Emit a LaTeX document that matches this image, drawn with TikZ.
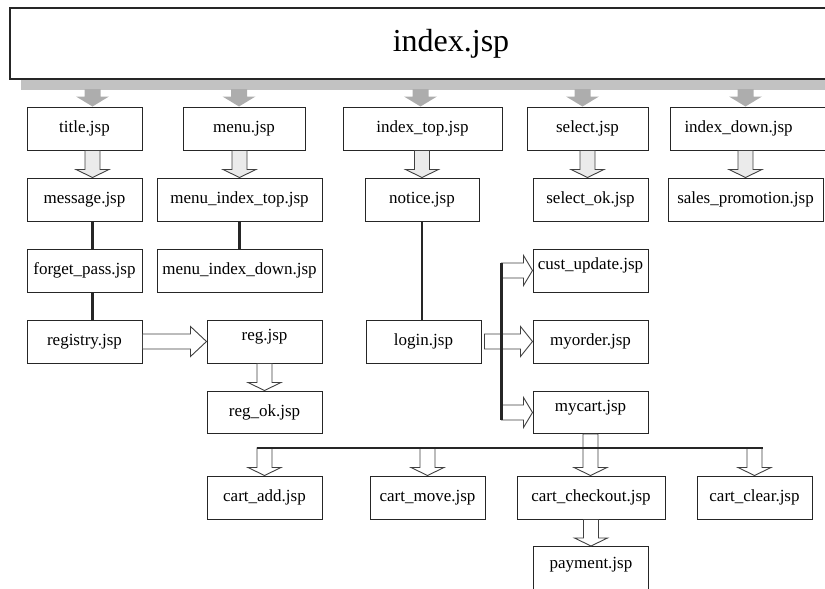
\documentclass[tikz,border=0pt]{standalone}
\usepackage{fontspec}
\setmainfont{Liberation Serif}
\usetikzlibrary{calc}

\tikzset{
  page/.style={draw=black!85, line width=1pt, fill=white, minimum width=115pt,
    minimum height=43pt, inner sep=0pt, font=\fontsize{17}{17}\selectfont},
  lifted/.style={text depth=13pt},
  link/.style={draw=black!85, line width=2.6pt},
  fat/.style={draw=black!75, line width=0.9pt, fill=white, line join=miter},
  fatgray/.style={fat, fill=black!8},
  feed/.style={fill=black!32},
}

% hollow arrow down: x and start from #2, tip at the y of #3
\newcommand{\fatdown}[3][fat]{%
  \draw[#1] let \p1=(#2), \p2=(#3) in
    (\x1-7.5pt,\y1) -- (\x1+7.5pt,\y1) -- (\x1+7.5pt,\y2+8pt) -- (\x1+16.5pt,\y2+8pt)
    -- (\x1,\y2) -- (\x1-16.5pt,\y2+8pt) -- (\x1-7.5pt,\y2+8pt) -- cycle;}
% hollow arrow right: y and start from #2, tip at the x of #3, head length #4
\newcommand{\fatright}[4][fat]{%
  \draw[#1] let \p1=(#2), \p2=(#3) in
    (\x1,\y1+7.5pt) -- (\x2-#4,\y1+7.5pt) -- (\x2-#4,\y1+15pt) -- (\x2,\y1)
    -- (\x2-#4,\y1-15pt) -- (\x2-#4,\y1-7.5pt) -- (\x1,\y1-7.5pt) -- cycle;}
% grey arrow from the bar under index.jsp
\newcommand{\grayarrow}[2]{%
  \fill[feed] let \p1=(#1), \p2=(#2) in
    (\x1-8pt,\y1+1pt) -- (\x1+8pt,\y1+1pt) -- (\x1+8pt,\y2+10pt) -- (\x1+16.5pt,\y2+10pt)
    -- (\x1,\y2) -- (\x1-16.5pt,\y2+10pt) -- (\x1-8pt,\y2+10pt) -- cycle;}

\begin{document}
\begin{tikzpicture}[x=1pt,y=-1pt]
\useasboundingbox (0,0) rectangle (825,589);

% top
\fill[feed, fill=black!24] (21,79) rectangle (900,90);
\node[page, minimum width=882pt, minimum height=71pt, line width=1.2pt,
  font=\fontsize{32}{32}\selectfont] (index) at (451,43.5) {index.jsp};
\coordinate (barbot) at (0,90);

% first row
\node[page] (title) at (84.5,128.5) {title.jsp};
\node[page, minimum width=122pt] (menu) at (244,128.5) {menu.jsp};
\node[page, minimum width=159pt] (idxtop) at (422.5,128.5) {index\_top.jsp};
\node[page, minimum width=121pt] (select) at (587.5,128.5) {select.jsp};
\node[page, anchor=west, text width=146pt, inner xsep=14pt, align=left] (idxdown) at (670,128.5) {index\_down.jsp};

% second row
\node[page] (message) at (84.5,199.5) {message.jsp};
\node[page, minimum width=165pt] (menuidxtop) at (239.5,199.5) {menu\_index\_top.jsp};
\node[page, minimum width=114pt] (notice) at (422,199.5) {notice.jsp};
\node[page] (selectok) at (590.5,199.5) {select\_ok.jsp};
\node[page, minimum width=155pt] (sales) at (745.5,199.5) {sales\_promotion.jsp};

\node[page] (forget) at (84.5,270.5) {forget\_pass.jsp};
\node[page, minimum width=165pt] (menuidxdown) at (239.5,270.5) {menu\_index\_down.jsp};
\node[page, lifted] (custupd) at (590.5,270.5) {cust\_update.jsp};

\node[page] (registry) at (84.5,341.5) {registry.jsp};
\node[page, lifted] (reg) at (264.5,341.5) {reg.jsp};
\node[page] (login) at (423.5,341.5) {login.jsp};
\node[page] (myorder) at (590.5,341.5) {myorder.jsp};

\node[page, minimum height=42pt] (regok) at (264.5,412) {reg\_ok.jsp};
\node[page, minimum height=42pt, lifted] (mycart) at (590.5,412.5) {mycart.jsp};

% cart
\node[page] (cartadd) at (264.5,497.5) {cart\_add.jsp};
\node[page] (cartmove) at (427.5,497.5) {cart\_move.jsp};
\node[page, minimum width=148pt] (checkout) at (591,497.5) {cart\_checkout.jsp};
\node[page] (clear) at (754.5,497.5) {cart\_clear.jsp};
\node[page, anchor=north, minimum height=52pt, text depth=20pt] (payment) at (591,546) {payment.jsp};

% grey arrows
\grayarrow{$(title.north |- barbot)+(8,0)$}{title.north}
\grayarrow{$(menu.north |- barbot)+(-5,0)$}{menu.north}
\grayarrow{$(idxtop.north |- barbot)+(-2,0)$}{idxtop.north}
\grayarrow{$(select.north |- barbot)+(-5,0)$}{select.north}
\grayarrow{sales.north |- barbot}{idxdown.north}

\fatdown[fatgray]{$(title.south)+(8,0)$}{message.north}
\fatdown[fatgray]{menu.south -| menuidxtop.north}{menuidxtop.north}
\fatdown[fatgray]{idxtop.south -| notice.north}{notice.north}
\fatdown[fatgray]{select.south}{selectok.north}
\fatdown[fatgray]{idxdown.south -| sales.north}{sales.north}

\draw[link] ($(message.south)+(8,0)$) -- ($(forget.north)+(8,0)$);
\draw[link] ($(forget.south)+(8,0)$) -- ($(registry.north)+(8,0)$);
\draw[link] (menuidxtop.south) -- (menuidxdown.north);
\draw[link] (notice.south) -- (notice.south |- login.north);

\fatright{registry.east}{reg.west}{16pt}
\fatdown{reg.south}{regok.north}

% login
\coordinate (trunk) at ($(login.east)+(20,0)$);
\fatright{trunk |- custupd.west}{custupd.west}{9pt}
\fatright{$(login.east)+(3,0)$}{myorder.west}{12pt}
\fatright{trunk |- mycart.west}{mycart.west}{9pt}
\draw[link] ($(trunk |- custupd.west)+(0,-7.5)$) -- ($(trunk |- mycart.west)+(0,7.5)$);

% mycart
\coordinate (bus) at (0,448);
\fatdown{cartadd.north |- bus}{cartadd.north}
\fatdown{cartmove.north |- bus}{cartmove.north}
\fatdown{mycart.south}{checkout.north}
\fatdown{clear.north |- bus}{clear.north}
\draw[link] ($(cartadd.north |- bus)+(-8,0)$) -- ($(clear.north |- bus)+(8.5,0)$);
\fatdown{checkout.south}{payment.north}
\end{tikzpicture}
\end{document}
